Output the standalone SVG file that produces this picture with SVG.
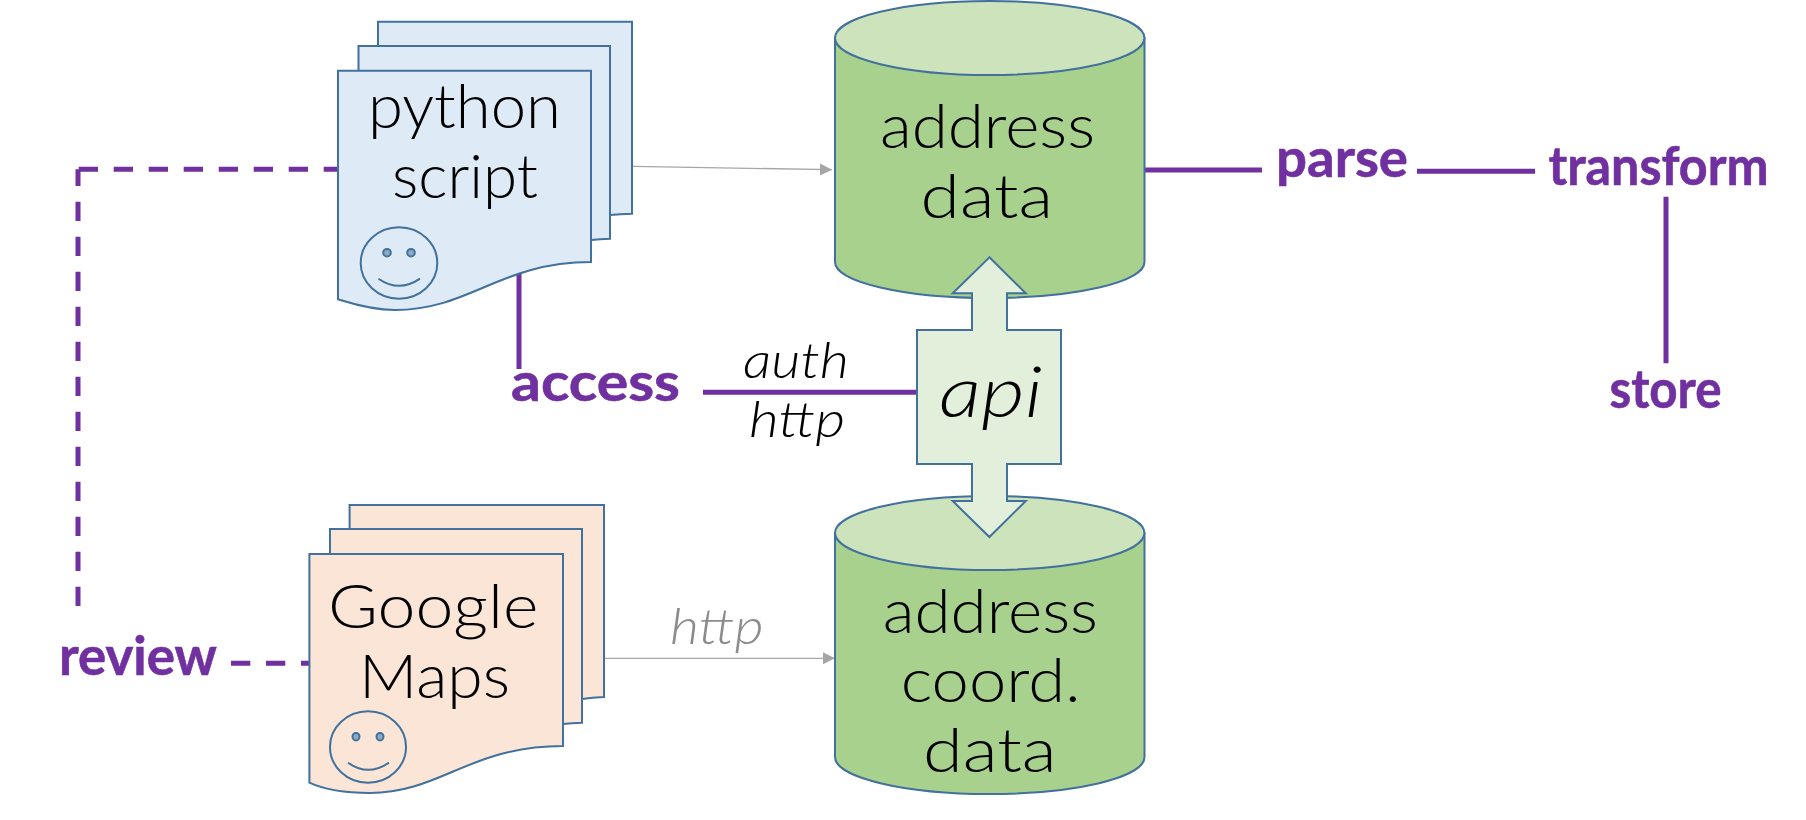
<svg xmlns="http://www.w3.org/2000/svg" width="1806" height="820" viewBox="0 0 1806 820">
<style>
text{font-family:"Lato","Liberation Sans",sans-serif;text-anchor:start}
.big{font-size:62px;font-weight:300;fill:#000}
.it{font-size:50px;font-weight:300;font-style:italic;fill:#000}
.pur{font-size:54px;font-weight:700;fill:#7030a0;stroke:#7030a0;stroke-width:.6}
.doc,.cyl,.face,.api{stroke:#41719c;stroke-width:2}
.blue{fill:#deebf7}.peach{fill:#fbe5d6}
.cyl{fill:#a9d18e}.top{fill:#cde3bc;stroke:#41719c;stroke-width:2}
.api{fill:#e2efda}
.face{fill:none}.eye{fill:#8faac4;stroke:#41719c;stroke-width:2}
.c{fill:none;stroke:#7030a0;stroke-width:5}
.d{stroke-dasharray:19.3 15.7}
.g{fill:none;stroke:#a6a6a6;stroke-width:1.3;marker-end:url(#ah)}
</style>
<defs>
<marker id="ah" markerUnits="userSpaceOnUse" markerWidth="13" markerHeight="14" refX="12" refY="6.5" orient="auto"><path d="M0 0.5L12 6.5L0 12.5Z" fill="#a6a6a6"/></marker>
</defs>
<g id="connectors">
<path class="c d" d="M78 606V169.3"/>
<path class="c d" style="stroke-dashoffset:3" d="M340 169.3H78"/>
<path class="c d" d="M231 663.3H310"/>
<path class="c" d="M519 273V369"/>
<path class="c" d="M703 392.3H917"/>
<path class="c" d="M1144.5 170H1262"/>
<path class="c" d="M1417 171.3H1535"/>
<path class="c" d="M1666 196.7V363.3"/>
<path class="g" d="M633 166.3L832 169.7"/>
<path class="g" d="M605 658.3H835"/>
</g>
<g id="address-data">
<path class="cyl" d="M835 38V262A154.7 36 0 0 0 1144.5 262V38Z"/>
<ellipse class="top" cx="989.7" cy="38" rx="154.7" ry="37"/>
<text class="big" x="880" y="148" textLength="215" lengthAdjust="spacingAndGlyphs">address</text>
<text class="big" x="920.6" y="218" textLength="132.4" lengthAdjust="spacingAndGlyphs">data</text>
</g>
<g id="address-coord-data">
<path class="cyl" d="M835 533V757A154.7 37 0 0 0 1144.5 757V533Z"/>
<ellipse class="top" cx="989.7" cy="533" rx="154.7" ry="37"/>
<text class="big" x="882.7" y="632.5" textLength="215.3" lengthAdjust="spacingAndGlyphs">address</text>
<text class="big" x="900.7" y="702" textLength="180" lengthAdjust="spacingAndGlyphs">coord.</text>
<text class="big" x="923" y="771.7" textLength="133.7" lengthAdjust="spacingAndGlyphs">data</text>
</g>
<g id="api">
<path class="api" d="M989.4 257.3L1025.8 293.3H1007V330H1061V464H1007V501H1025.8L989.4 537L952.7 501H972V464H917V330H972V293.3H952.7Z"/>
<text class="it" style="font-size:72px" x="939" y="417" textLength="103.5" lengthAdjust="spacingAndGlyphs">api</text>
</g>
<g id="python-script">
<path class="doc blue" d="M378 21.7H632V213.7Q620 214 610 215L378 215Z"/>
<path class="doc blue" d="M358.5 46H610V238.7Q600 239 591 240L358.5 240Z"/>
<path class="doc blue" d="M338 70.7H591V262C500 262 470 310 395 310C370 310 350 303 338 299.3Z"/>
<ellipse class="face" cx="399" cy="263" rx="38.3" ry="35.7"/>
<circle class="eye" cx="387" cy="252.7" r="3.8"/>
<circle class="eye" cx="411" cy="252.7" r="3.8"/>
<path class="face" d="M378.5 278.7Q399 293 420 278.7"/>
<text class="big" x="368" y="127.5" textLength="193" lengthAdjust="spacingAndGlyphs">python</text>
<text class="big" x="392" y="197.5" textLength="146" lengthAdjust="spacingAndGlyphs">script</text>
</g>
<g id="google-maps">
<path class="doc peach" d="M349.6 505H604V697Q592 697.5 582 699L349.6 699Z"/>
<path class="doc peach" d="M330 529H582V722.7Q572 723 563 724L330 724Z"/>
<path class="doc peach" d="M309.4 554H563V746C470 746 440 793 370 793C345 793 325 790 309.4 782.7Z"/>
<ellipse class="face" cx="368" cy="747" rx="38" ry="35.7"/>
<ellipse class="eye" cx="356" cy="736.7" rx="3.5" ry="3.8"/>
<ellipse class="eye" cx="380" cy="736.7" rx="3.5" ry="3.8"/>
<path class="face" d="M348 762.7Q368 777 389 762.7"/>
<text class="big" x="328" y="627.5" textLength="210.5" lengthAdjust="spacingAndGlyphs">Google</text>
<text class="big" x="359" y="697.5" textLength="151" lengthAdjust="spacingAndGlyphs">Maps</text>
</g>
<g id="labels">
<text class="it" x="743" y="378" textLength="106" lengthAdjust="spacingAndGlyphs">auth</text>
<text class="it" x="749" y="437" textLength="96" lengthAdjust="spacingAndGlyphs">http</text>
<text class="it" style="fill:#8c8c8c" x="670" y="644" textLength="93.5" lengthAdjust="spacingAndGlyphs">http</text>
</g>
<g id="access"><text class="pur" x="511" y="401" textLength="169" lengthAdjust="spacingAndGlyphs">access</text></g>
<g id="review"><text class="pur" x="59" y="675" textLength="158" lengthAdjust="spacingAndGlyphs">review</text></g>
<g id="parse"><text class="pur" x="1276" y="177" textLength="132" lengthAdjust="spacingAndGlyphs">parse</text></g>
<g id="transform"><text class="pur" x="1548.5" y="185" textLength="220" lengthAdjust="spacingAndGlyphs">transform</text></g>
<g id="store"><text class="pur" x="1609.5" y="408" textLength="112" lengthAdjust="spacingAndGlyphs">store</text></g>
</svg>
